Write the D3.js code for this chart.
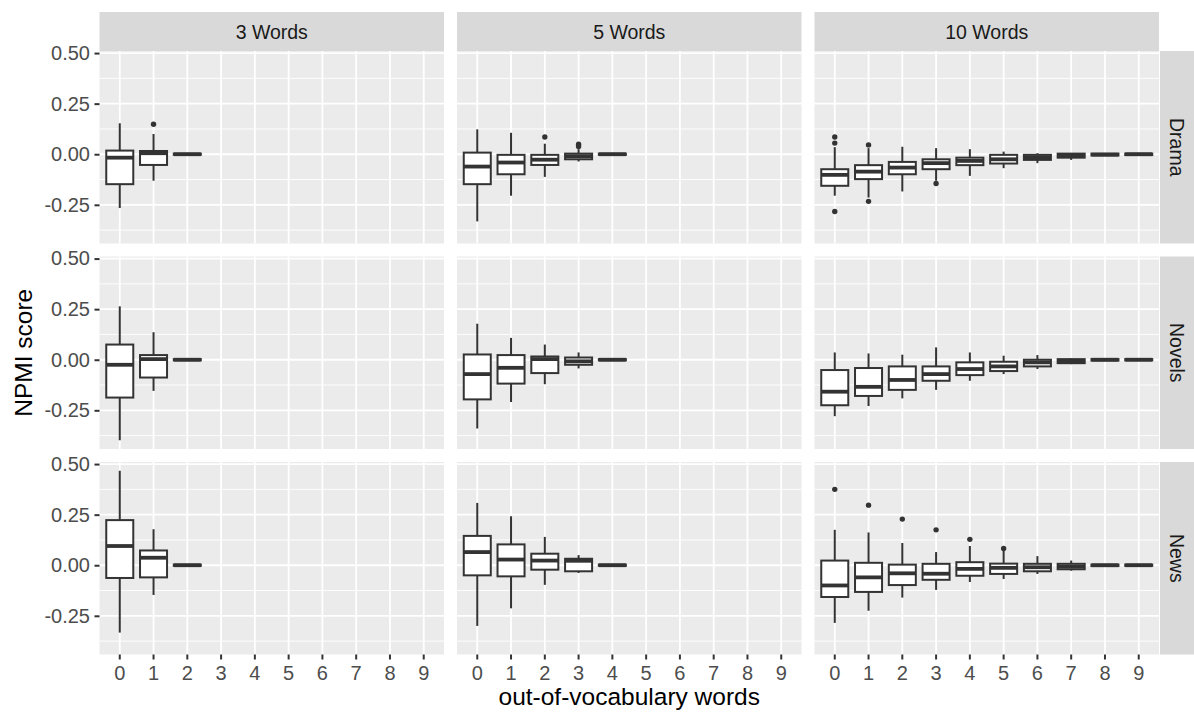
<!DOCTYPE html>
<html>
<head>
<meta charset="utf-8">
<script src="https://cdn.jsdelivr.net/npm/d3@7"></script>
<style>
  html, body { margin: 0; padding: 0; background: #ffffff; }
  svg { display: block; font-family: "Liberation Sans", Arial, Helvetica, sans-serif; }
</style>
</head>
<body>
<svg id="chart" width="1194" height="713"></svg>
<script>
// x categories: number of out-of-vocabulary words in a topic
const categories = ["0", "1", "2", "3", "4", "5", "6", "7", "8", "9"];
const wordCounts = ["3 Words", "5 Words", "10 Words"];
const genres = ["Drama", "Novels", "News"];
const yTicks = [-0.25, 0, 0.25, 0.5];
const yMinor = [-0.375, -0.125, 0.125, 0.375];

// Box statistics per category: [lower whisker, Q1, median, Q3, upper whisker]
const drama3 = [
  [-0.266, -0.148, -0.017, 0.018, 0.153],
  [-0.131, -0.053, 0.005, 0.016, 0.100],
  [-0.004, -0.003, 0.000, 0.003, 0.004]
];
const drama5 = [
  [-0.332, -0.148, -0.061, 0.008, 0.123],
  [-0.205, -0.099, -0.041, -0.003, 0.106],
  [-0.112, -0.053, -0.027, -0.003, 0.052],
  [-0.036, -0.025, -0.010, 0.003, 0.025],
  [-0.004, -0.003, 0.000, 0.003, 0.004]
];
const drama10 = [
  [-0.205, -0.156, -0.102, -0.074, 0.035],
  [-0.214, -0.123, -0.086, -0.054, 0.030],
  [-0.184, -0.099, -0.066, -0.038, 0.037],
  [-0.131, -0.074, -0.044, -0.025, 0.030],
  [-0.107, -0.054, -0.033, -0.017, 0.025],
  [-0.069, -0.046, -0.025, -0.003, 0.013],
  [-0.044, -0.028, -0.015, -0.003, 0.005],
  [-0.028, -0.017, -0.008, 0.003, 0.004],
  [-0.008, -0.006, -0.002, 0.003, 0.004],
  [-0.004, -0.004, 0.000, 0.003, 0.004]
];
const novels3 = [
  [-0.398, -0.187, -0.025, 0.075, 0.264],
  [-0.154, -0.088, 0.003, 0.023, 0.136],
  [-0.004, -0.003, 0.000, 0.003, 0.004]
];
const novels5 = [
  [-0.340, -0.196, -0.071, 0.026, 0.178],
  [-0.209, -0.118, -0.040, 0.023, 0.108],
  [-0.121, -0.066, 0.003, 0.016, 0.075],
  [-0.043, -0.025, -0.008, 0.011, 0.036],
  [-0.004, -0.003, 0.000, 0.003, 0.004]
];
const novels10 = [
  [-0.279, -0.225, -0.158, -0.051, 0.036],
  [-0.229, -0.179, -0.134, -0.041, 0.031],
  [-0.191, -0.149, -0.100, -0.033, 0.025],
  [-0.149, -0.104, -0.071, -0.033, 0.061],
  [-0.104, -0.076, -0.046, -0.013, 0.036],
  [-0.071, -0.056, -0.033, -0.010, 0.020],
  [-0.046, -0.033, -0.013, 0.000, 0.023],
  [-0.022, -0.017, -0.007, 0.003, 0.006],
  [-0.006, -0.004, 0.000, 0.003, 0.004],
  [-0.004, -0.003, 0.000, 0.003, 0.004]
];
const news3 = [
  [-0.333, -0.063, 0.095, 0.223, 0.467],
  [-0.147, -0.060, 0.037, 0.073, 0.178],
  [-0.004, -0.003, 0.000, 0.003, 0.004]
];
const news5 = [
  [-0.300, -0.050, 0.065, 0.145, 0.308],
  [-0.213, -0.055, 0.028, 0.103, 0.242],
  [-0.097, -0.022, 0.023, 0.057, 0.140],
  [-0.038, -0.030, 0.022, 0.032, 0.050],
  [-0.004, -0.003, 0.000, 0.003, 0.004]
];
const news10 = [
  [-0.285, -0.157, -0.100, 0.023, 0.175],
  [-0.225, -0.132, -0.060, 0.012, 0.162],
  [-0.160, -0.098, -0.040, 0.003, 0.110],
  [-0.122, -0.072, -0.042, 0.007, 0.065],
  [-0.083, -0.052, -0.018, 0.015, 0.095],
  [-0.068, -0.043, -0.013, 0.008, 0.075],
  [-0.043, -0.030, -0.010, 0.007, 0.045],
  [-0.027, -0.020, -0.007, 0.007, 0.023],
  [-0.005, -0.004, 0.000, 0.003, 0.004],
  [-0.004, -0.003, 0.000, 0.003, 0.004]
];

// Outliers: [category index, value]
const drama3Out = [[1, 0.148]];
const drama5Out = [[2, 0.085], [3, 0.049], [3, 0.038]];
const drama10Out = [[0, 0.085], [0, 0.055], [0, -0.283], [1, 0.046], [1, -0.233], [3, -0.145]];
const novels3Out = [];
const novels5Out = [];
const novels10Out = [];
const news3Out = [];
const news5Out = [];
const news10Out = [[0, 0.375], [1, 0.297], [2, 0.228], [3, 0.175], [4, 0.128], [5, 0.083]];

const panelStats = [
  [drama3, drama5, drama10],
  [novels3, novels5, novels10],
  [news3, news5, news10]
];
const panelOutliers = [
  [drama3Out, drama5Out, drama10Out],
  [novels3Out, novels5Out, novels10Out],
  [news3Out, news5Out, news10Out]
];

// ---- layout ----
const svg = d3.select("#chart");
const colX = [99.5, 457, 814.5];
const rowY = [51, 256.5, 462];
const panelW = 344.5;
const panelH = 192.5;
const stripTop = 12;
const stripRightX = 1160;
const stripRightW = 34;

const ink = "#333333";
const tickFont = "20px";
const stripFont = "19.5px";
const titleFont = "24.5px";

// Shared y domain from the data range with 5% padding
const allVals = [];
panelStats.forEach(r => r.forEach(p => p.forEach(s => allVals.push(s[0], s[4]))));
panelOutliers.forEach(r => r.forEach(p => p.forEach(o => allVals.push(o[1]))));
const lo = d3.min(allVals), hi = d3.max(allVals);
const pad = (hi - lo) * 0.05;

const x = d3.scaleBand().domain(categories).range([0, panelW]).paddingInner(0).paddingOuter(0.1);
const y = d3.scaleLinear().domain([lo - pad, hi + pad]).range([panelH, 0]);
const boxW = x.step() * 0.8;

genres.forEach((genre, r) => {
  wordCounts.forEach((wc, c) => {
    const g = svg.append("g").attr("transform", `translate(${colX[c]},${rowY[r]})`);

    // panel background and grid
    g.append("rect").attr("width", panelW).attr("height", panelH).attr("fill", "#EBEBEB");
    g.selectAll(".minor").data(yMinor).enter().append("line")
      .attr("x1", 0).attr("x2", panelW)
      .attr("y1", d => y(d)).attr("y2", d => y(d))
      .attr("stroke", "#ffffff").attr("stroke-width", 0.9);
    g.selectAll(".majorY").data(yTicks).enter().append("line")
      .attr("x1", 0).attr("x2", panelW)
      .attr("y1", d => y(d)).attr("y2", d => y(d))
      .attr("stroke", "#ffffff").attr("stroke-width", 1.8);
    g.selectAll(".majorX").data(categories).enter().append("line")
      .attr("y1", 0).attr("y2", panelH)
      .attr("x1", d => x(d) + x.bandwidth() / 2).attr("x2", d => x(d) + x.bandwidth() / 2)
      .attr("stroke", "#ffffff").attr("stroke-width", 1.8);

    // boxplots
    const stats = panelStats[r][c];
    const boxes = g.selectAll(".box").data(stats).enter().append("g")
      .attr("transform", (d, i) => `translate(${x(categories[i]) + x.bandwidth() / 2},0)`);
    boxes.append("line")
      .attr("x1", 0).attr("x2", 0)
      .attr("y1", d => y(d[4])).attr("y2", d => y(d[3]))
      .attr("stroke", ink).attr("stroke-width", 2);
    boxes.append("line")
      .attr("x1", 0).attr("x2", 0)
      .attr("y1", d => y(d[1])).attr("y2", d => y(d[0]))
      .attr("stroke", ink).attr("stroke-width", 2);
    boxes.append("rect")
      .attr("x", -boxW / 2).attr("width", boxW)
      .attr("y", d => y(d[3])).attr("height", d => Math.max(0, y(d[1]) - y(d[3])))
      .attr("fill", "#ffffff").attr("stroke", ink).attr("stroke-width", 2);
    boxes.append("line")
      .attr("x1", -boxW / 2).attr("x2", boxW / 2)
      .attr("y1", d => y(d[2])).attr("y2", d => y(d[2]))
      .attr("stroke", ink).attr("stroke-width", 3.8);

    // outliers
    g.selectAll(".out").data(panelOutliers[r][c]).enter().append("circle")
      .attr("cx", d => x(categories[d[0]]) + x.bandwidth() / 2)
      .attr("cy", d => y(d[1]))
      .attr("r", 2.7).attr("fill", ink);

    // y axis on the first column
    if (c === 0) {
      const ay = g.append("g").call(
        d3.axisLeft(y).tickValues(yTicks).tickSize(5).tickPadding(4.5).tickFormat(d => d.toFixed(2))
      );
      ay.select(".domain").remove();
      ay.selectAll(".tick line").attr("stroke", ink).attr("stroke-width", 2);
      ay.selectAll(".tick text").attr("fill", "#4D4D4D").style("font-size", tickFont)
        .style("font-family", "'Liberation Sans', Arial, sans-serif");
    }
    // x axis on the bottom row
    if (r === genres.length - 1) {
      const ax = g.append("g").attr("transform", `translate(0,${panelH})`).call(
        d3.axisBottom(x).tickSize(5).tickPadding(6)
      );
      ax.select(".domain").remove();
      ax.selectAll(".tick line").attr("stroke", ink).attr("stroke-width", 2);
      ax.selectAll(".tick text").attr("fill", "#4D4D4D").style("font-size", tickFont)
        .style("font-family", "'Liberation Sans', Arial, sans-serif");
    }
  });
});

// top strips
wordCounts.forEach((wc, c) => {
  svg.append("rect").attr("x", colX[c]).attr("y", stripTop)
    .attr("width", panelW).attr("height", rowY[0] - stripTop).attr("fill", "#D9D9D9");
  svg.append("text").attr("x", colX[c] + panelW / 2).attr("y", (stripTop + rowY[0]) / 2)
    .attr("text-anchor", "middle").attr("dominant-baseline", "central")
    .attr("fill", "#1A1A1A").style("font-size", stripFont).text(wc);
});
// right strips
genres.forEach((genre, r) => {
  svg.append("rect").attr("x", stripRightX).attr("y", rowY[r])
    .attr("width", stripRightW).attr("height", panelH).attr("fill", "#D9D9D9");
  const cx = stripRightX + stripRightW / 2, cy = rowY[r] + panelH / 2;
  svg.append("text").attr("transform", `translate(${cx},${cy}) rotate(90)`)
    .attr("text-anchor", "middle").attr("dominant-baseline", "central")
    .attr("fill", "#1A1A1A").style("font-size", stripFont).text(genre);
});

// axis titles
svg.append("text")
  .attr("x", (colX[0] + colX[2] + panelW) / 2).attr("y", 705)
  .attr("text-anchor", "middle").attr("fill", "#000000").style("font-size", titleFont)
  .text("out-of-vocabulary words");
svg.append("text")
  .attr("transform", `translate(23,${(rowY[0] + rowY[2] + panelH) / 2}) rotate(-90)`)
  .attr("text-anchor", "middle").attr("dominant-baseline", "central")
  .attr("fill", "#000000").style("font-size", titleFont)
  .text("NPMI score");
</script>
</body>
</html>
